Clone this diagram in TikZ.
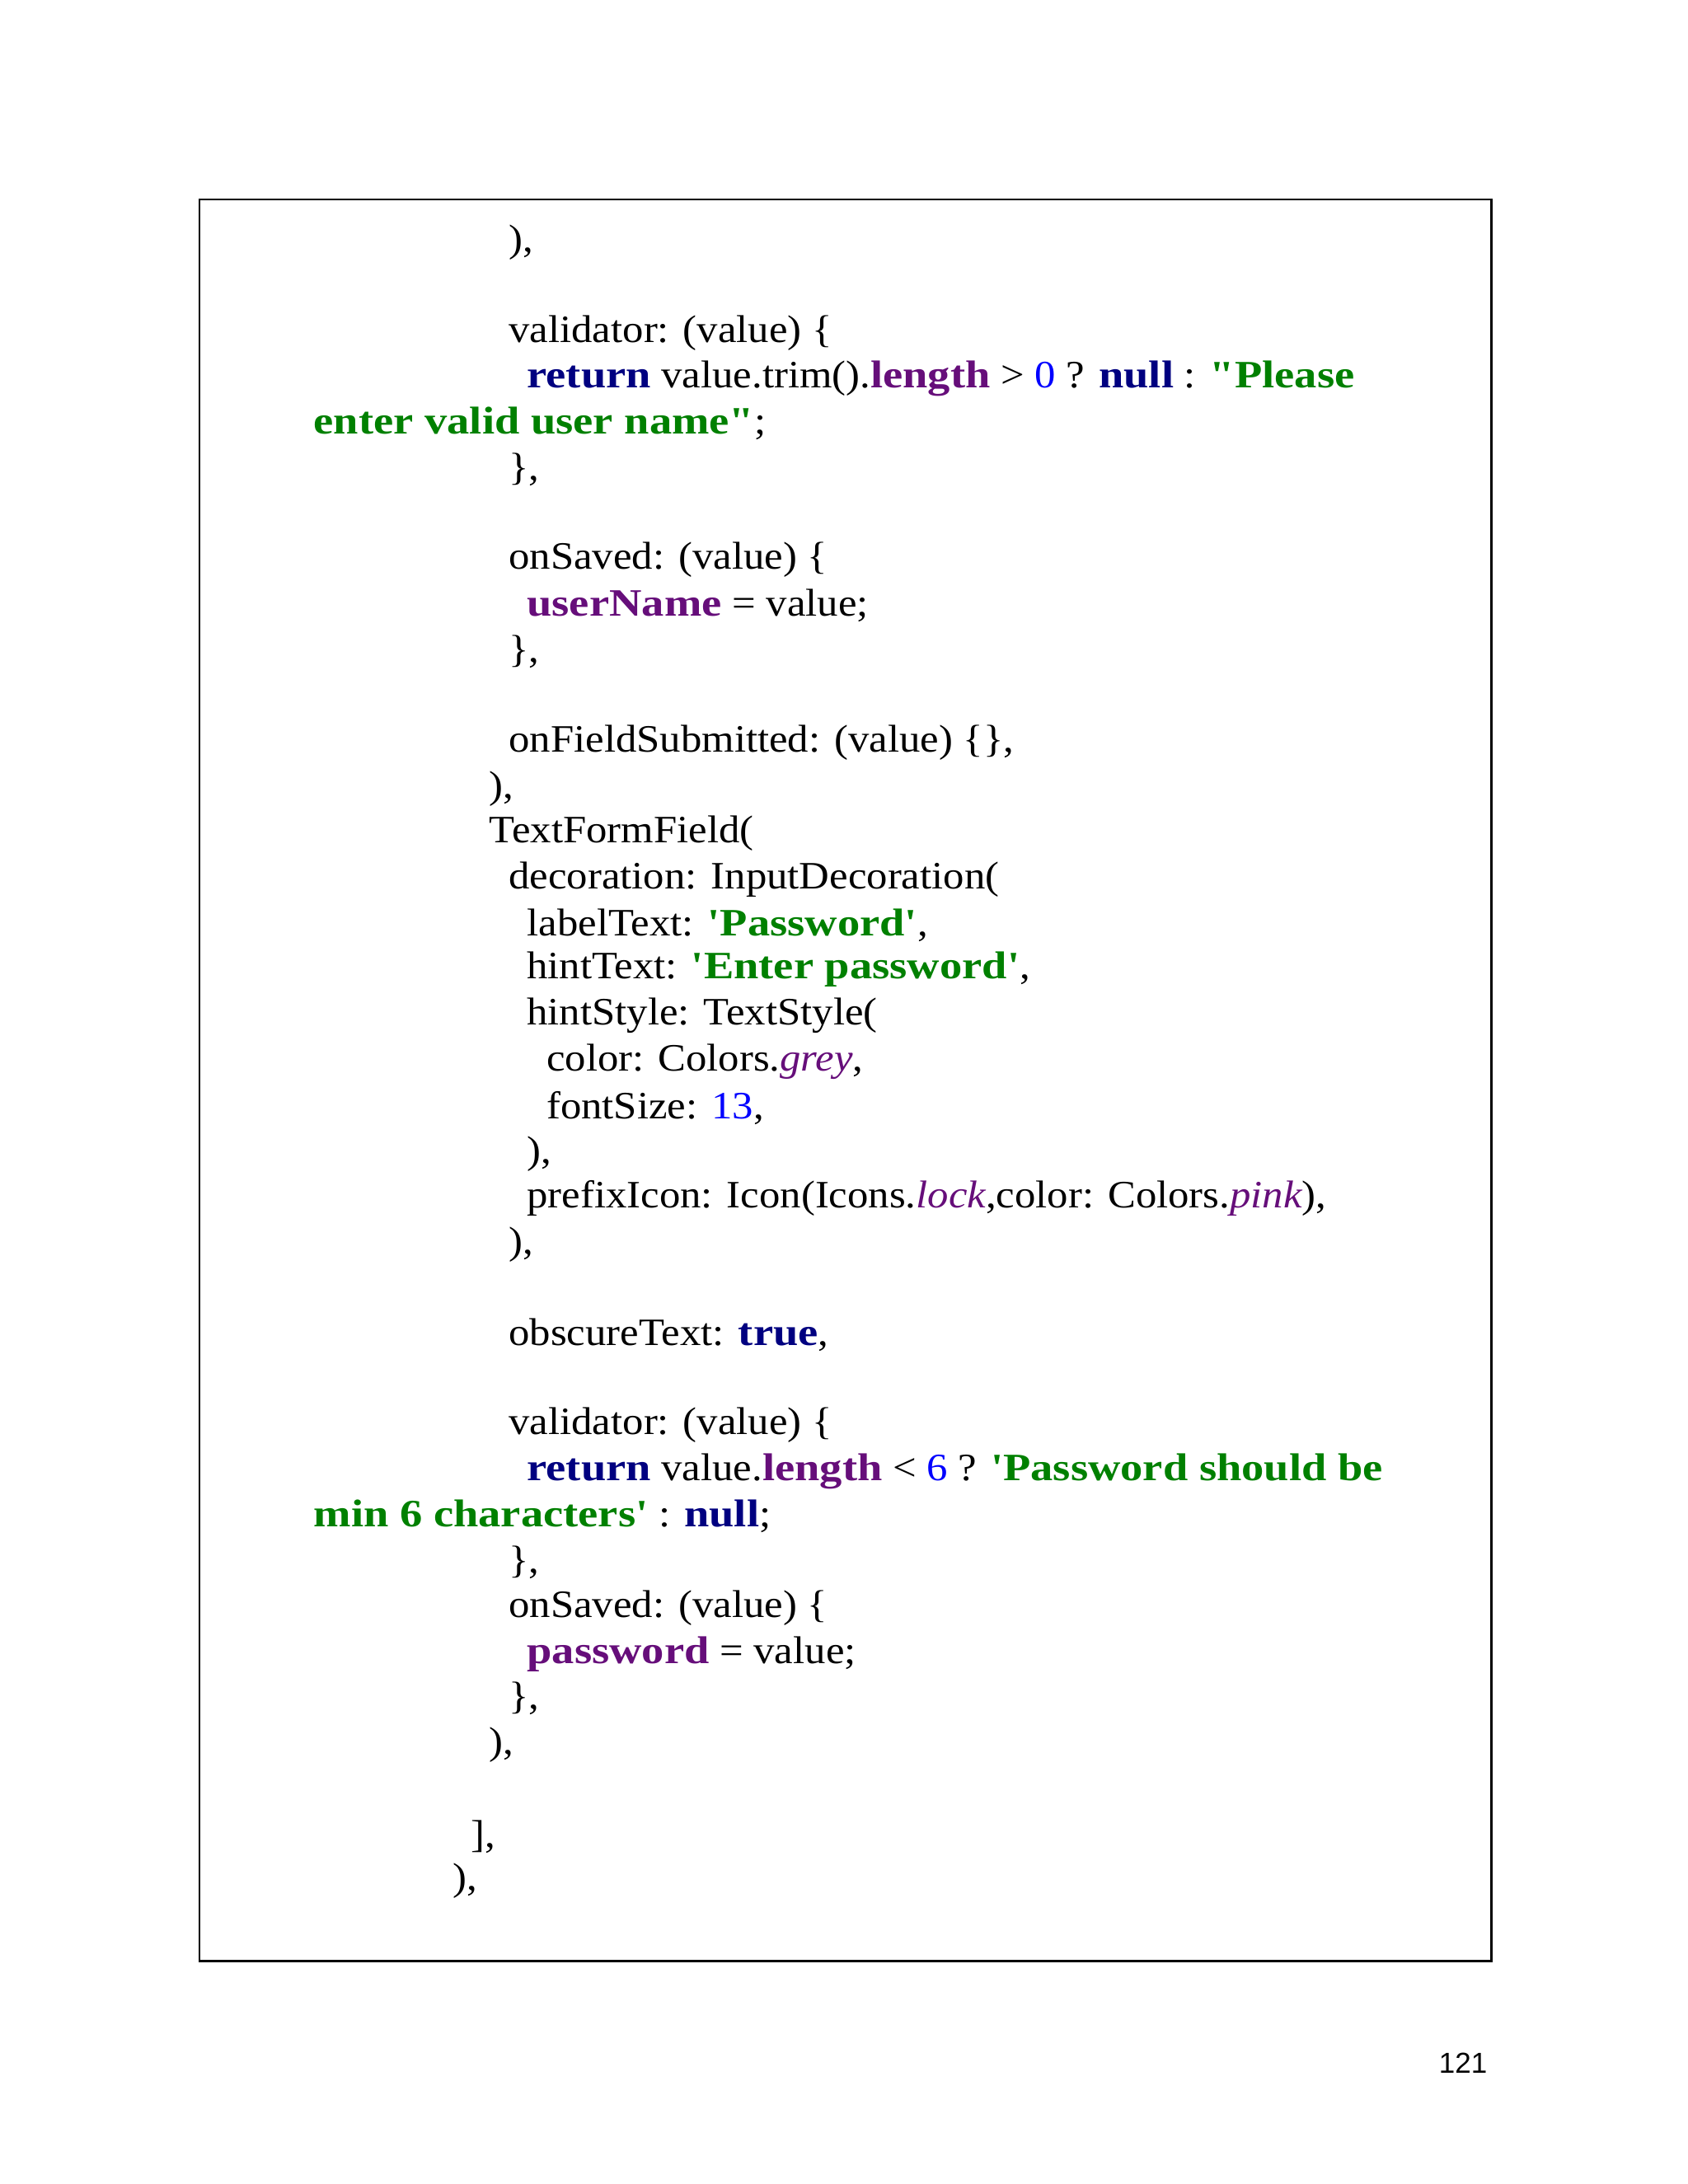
\documentclass[tikz,border=0pt]{standalone}
\usepackage{fontspec}
\setmainfont{Liberation Serif}[FakeStretch=1.08,BoldFeatures={FakeStretch=1.16}]
\newfontfamily\qf{Liberation Serif}[FakeStretch=1.08,BoldFeatures={FakeStretch=1.16}]
\newfontfamily\pgfont{Liberation Sans}
\definecolor{navykw}{RGB}{0,0,128}
\definecolor{purpfld}{RGB}{102,14,122}
\definecolor{greenstr}{RGB}{0,128,0}
\definecolor{bluenum}{RGB}{0,0,255}
\newcommand{\kwd}[1]{\textcolor{navykw}{\bfseries #1}}
\newcommand{\fld}[1]{\textcolor{purpfld}{\bfseries #1}}
\newcommand{\cstr}[1]{\textcolor{greenstr}{\bfseries #1}}
\newcommand{\cnum}[1]{\textcolor{bluenum}{#1}}
\newcommand{\ital}[1]{\textcolor{purpfld}{\itshape #1}}
\newcommand{\sq}{{\qf\symbol{39}}}
\newcommand{\dq}{{\qf\symbol{34}}}
\begin{document}
\begin{tikzpicture}[x=1.691pt,y=-1.691pt,
  code/.style={anchor=west,inner sep=0pt,yshift=-3pt,font=\fontsize{47}{56}\selectfont}]
\useasboundingbox (0,0) rectangle (1211,1567);
\draw[line width=2.2pt] (143,143) rectangle (1070,1407);
\node[code] (l1) at (365,172) {),};
\node[code] (l2) at (365,237) {validator: (value) \{};
\node[code] (l3) at (378,270) {\kwd{return} value.trim().\fld{length} > \cnum{0} ? \kwd{null} : \cstr{\dq Please}};
\node[code] (l4) at (225,302) {\cstr{enter valid user name\dq};};
\node[code] (l5) at (365,335) {\},};
\node[code] (l6) at (365,400) {onSaved: (value) \{};
\node[code] (l7) at (378,433) {\fld{userName} = value;};
\node[code] (l8) at (365,466) {\},};
\node[code] (l9) at (365,531) {onFieldSubmitted: (value) \{\},};
\node[code] (l10) at (351,564) {),};
\node[code] (l11) at (351,596) {TextFormField(};
\node[code] (l12) at (365,629) {decoration: InputDecoration(};
\node[code] (l13) at (378,662) {labelText: \cstr{\sq Password\sq},};
\node[code] (l14) at (378,694) {hintText: \cstr{\sq Enter password\sq},};
\node[code] (l15) at (378,727) {hintStyle: TextStyle(};
\node[code] (l16) at (392,760) {color: Colors.\ital{grey},};
\node[code] (l17) at (392,793) {fontSize: \cnum{13},};
\node[code] (l18) at (378,826) {),};
\node[code] (l19) at (378,858) {prefixIcon: Icon(Icons.\ital{lock},color: Colors.\ital{pink}),};
\node[code] (l20) at (365,891) {),};
\node[code] (l21) at (365,956) {obscureText: \kwd{true},};
\node[code] (l22) at (365,1021) {validator: (value) \{};
\node[code] (l23) at (378,1054) {\kwd{return} value.\fld{length} < \cnum{6} ? \cstr{\sq Password should be}};
\node[code] (l24) at (225,1086) {\cstr{min 6 characters\sq} : \kwd{null};};
\node[code] (l25) at (365,1119) {\},};
\node[code] (l26) at (365,1152) {onSaved: (value) \{};
\node[code] (l27) at (378,1185) {\fld{password} = value;};
\node[code] (l28) at (365,1217) {\},};
\node[code] (l29) at (351,1250) {),};
\node[code] (l30) at (338,1316) {],};
\node[code] (l31) at (325,1348) {),};
\node[anchor=east,inner sep=0pt,font=\pgfont\fontsize{35}{40}\selectfont] (pg) at (1067,1480) {121};
\end{tikzpicture}
\end{document}
